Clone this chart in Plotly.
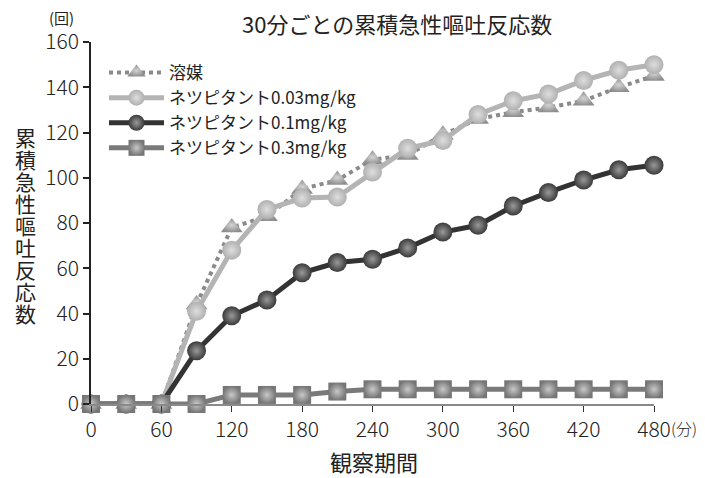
import plotly.graph_objects as go

# observation time (min) every 30 minutes
minutes = [0, 30, 60, 90, 120, 150, 180, 210, 240, 270, 300, 330, 360, 390, 420, 450, 480]

series_names = ["溶媒", "ネツピタント0.03mg/kg", "ネツピタント0.1mg/kg", "ネツピタント0.3mg/kg"]
vehicle = [0, 0, 0, 44, 78, 83, 95, 99, 108, 110, 119, 126, 129, 131, 134, 140, 145]
dose_003 = [0, 0, 0, 41, 68, 86, 91, 91.5, 102.5, 113, 116.5, 128, 134, 137, 143, 147.5, 150]
dose_01 = [0, 0, 0, 23.5, 39, 46, 58, 62.5, 64, 69, 76, 79, 87.5, 93.5, 99, 103.5, 105.5]
dose_03 = [0, 0, 0, 0, 4, 4, 4, 5.5, 6.5, 6.5, 6.5, 6.5, 6.5, 6.5, 6.5, 6.5, 6.5]

x_ticks = [0, 60, 120, 180, 240, 300, 360, 420, 480]
y_ticks = [0, 20, 40, 60, 80, 100, 120, 140, 160]
y_title = "累積急性嘔吐反応数"

font_family = "Noto Sans CJK JP"
text_col = "#222222"

fig = go.Figure()

# vehicle: dotted line, triangles
fig.add_trace(go.Scatter(
    x=minutes, y=vehicle, name=series_names[0], legendgroup="a", mode="lines+markers", cliponaxis=False,
    line=dict(color="#8a8a8a", width=4, dash="dot"),
    marker=dict(symbol="triangle-up", size=19, color="#8e8e8e",
                gradient=dict(type="radial", color="#d4d4d4"), line=dict(width=0)),
))
fig.add_trace(go.Scatter(
    x=minutes, y=dose_003, name=series_names[1], legendgroup="b", mode="lines+markers", cliponaxis=False,
    line=dict(color="#b4b4b4", width=5),
    marker=dict(symbol="circle", size=19, color="#b0b0b0",
                gradient=dict(type="radial", color="#dedede"), line=dict(width=0)),
))
fig.add_trace(go.Scatter(
    x=minutes, y=dose_01, name=series_names[2], legendgroup="c", mode="lines+markers", cliponaxis=False,
    line=dict(color="#333333", width=5),
    marker=dict(symbol="circle", size=19, color="#3a3a3a",
                gradient=dict(type="radial", color="#999999"), line=dict(width=0)),
))
fig.add_trace(go.Scatter(
    x=minutes, y=dose_03, name=series_names[3], legendgroup="d", mode="lines+markers", cliponaxis=False,
    line=dict(color="#7a7a7a", width=5),
    marker=dict(symbol="square", size=18, color="#767676",
                gradient=dict(type="radial", color="#c8c8c8"), line=dict(width=0)),
))

tick_font = dict(size=21, color=text_col, family=font_family, weight=300)
fig.update_xaxes(range=[0, 480], tickvals=x_ticks, ticktext=[str(v) for v in x_ticks],
                 showgrid=False, zeroline=False, showline=True, linecolor="#8a8a8a", linewidth=1.5,
                 ticks="outside", ticklen=6, tickcolor="#333333", tickwidth=1,
                 tickfont=tick_font)
fig.update_yaxes(range=[0, 160], tickvals=y_ticks,
                 showgrid=False, zeroline=False, showline=True, linecolor=text_col, linewidth=1.5,
                 ticks="outside", ticklen=6, tickcolor=text_col, tickwidth=1.5,
                 tickfont=tick_font)


def px_x(p):
    # page pixel -> paper x (plot area spans 91..654 on the page)
    return (p - 91) / 563


def px_y(p):
    # page pixel -> paper y (plot area spans 42..404 on the page)
    return (404 - p) / 362


# extra labels: title, units, axis titles
fig.add_annotation(text="30分ごとの累積急性嘔吐反応数", xref="paper", yref="paper",
                   x=px_x(397), y=px_y(23), xanchor="center", yanchor="middle", showarrow=False,
                   borderpad=0, font=dict(size=22, color=text_col, family=font_family))
fig.add_annotation(text="(回)", xref="paper", yref="paper", x=px_x(61), y=px_y(18),
                   xanchor="center", yanchor="middle", showarrow=False,
                   font=dict(size=15, color=text_col, family=font_family))
fig.add_annotation(text="(分)", xref="paper", yref="paper", x=px_x(669), y=px_y(428),
                   xanchor="left", yanchor="middle", showarrow=False,
                   font=dict(size=16, color=text_col, family=font_family, weight=300))
for i, ch in enumerate(y_title):
    fig.add_annotation(text=ch, xref="paper", yref="paper",
                       x=px_x(25), y=px_y(137 + 22 * i), xanchor="center", yanchor="middle",
                       showarrow=False,
                       font=dict(size=21, color=text_col, family=font_family))
fig.add_annotation(text="観察期間", xref="paper", yref="paper", x=px_x(374), y=px_y(461),
                   xanchor="center", yanchor="middle", showarrow=False,
                   font=dict(size=22, color=text_col, family=font_family))

# the page body has an 8px margin, so the figure is 8px smaller than the window
fig.update_layout(
    width=697, height=470,
    margin=dict(l=83, r=51, t=34, b=74),
    plot_bgcolor="white", paper_bgcolor="white",
    showlegend=True,
    legend=dict(x=px_x(104), y=px_y(55), xanchor="left", yanchor="top", bgcolor="rgba(0,0,0,0)",
                font=dict(size=17, color=text_col, family=font_family),
                tracegroupgap=0, itemwidth=55),
    font=dict(family=font_family),
)

fig.write_html("out.html")
